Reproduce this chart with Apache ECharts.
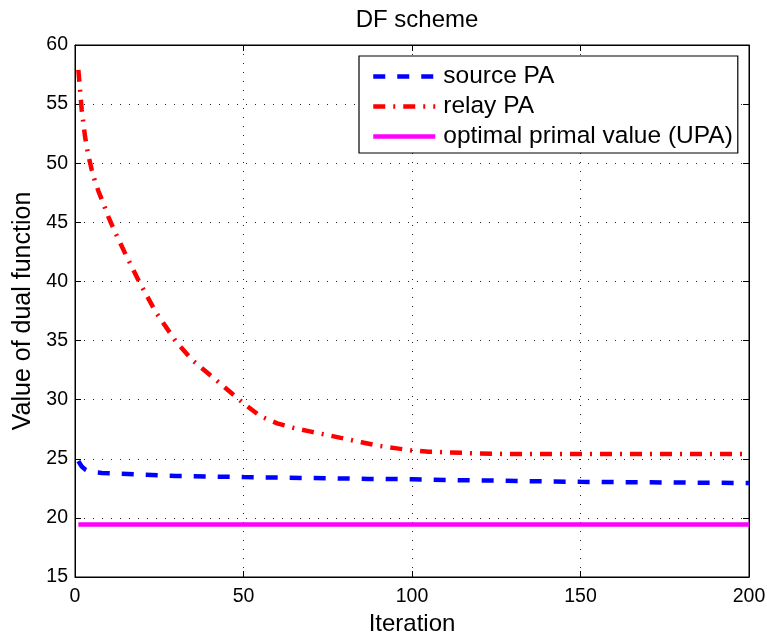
<!DOCTYPE html>
<html>
<head>
<meta charset="utf-8">
<script src="https://cdn.jsdelivr.net/npm/echarts@6/dist/echarts.min.js"></script>
<style>html,body{margin:0;padding:0;background:#fff}#c{width:767px;height:634px}</style>
</head>
<body>
<div id="c"></div>
<script>
// ---- data ----
const titleText = 'DF scheme';
const xTicks = [0, 50, 100, 150, 200];
const yTicks = [15, 20, 25, 30, 35, 40, 45, 50, 55, 60];

const sourceX = [1, 2, 3, 4, 6, 8, 12, 20, 30, 40, 50, 62, 75, 87, 100, 112, 125, 137, 150, 162, 175, 187, 200];
const sourceY = [24.8, 24.35, 24.1, 23.95, 23.85, 23.8, 23.75, 23.65, 23.55, 23.5, 23.45, 23.4, 23.35, 23.3, 23.27, 23.2, 23.15, 23.1, 23.05, 23.02, 23.0, 22.97, 22.95];

const relayX = [1, 2, 3, 4, 5, 6, 7, 8, 10, 12, 15, 19, 24, 30, 35, 40, 45, 50, 55, 60, 65, 70, 75, 80, 85, 90, 95, 100, 105, 110, 115, 120, 125, 130, 140, 150, 160, 170, 180, 190, 200];
const relayY = [57.9, 54.5, 52.2, 50.6, 49.4, 48.4, 47.6, 46.9, 45.4, 44.1, 42.3, 40.0, 37.4, 34.9, 33.3, 32.1, 30.9, 29.7, 28.6, 28.0, 27.6, 27.3, 27.0, 26.7, 26.4, 26.1, 25.9, 25.7, 25.6, 25.55, 25.5, 25.45, 25.42, 25.4, 25.4, 25.4, 25.4, 25.4, 25.4, 25.4, 25.4];

const optX = [1, 200];
const optY = [19.45, 19.45];

const seriesNames = ['source PA', 'relay PA', 'optimal primal value (UPA)'];

// ---- chart ----
const zip = (xs, ys) => xs.map((x, i) => [x, ys[i]]);
const chart = echarts.init(document.getElementById('c'), null, {renderer: 'canvas'});
const FONT = '"Liberation Sans", Arial, Helvetica, sans-serif';
const gridLine = {show: true, lineStyle: {color: '#222', width: 1, type: [1, 8]}};
const xMin = xTicks[0], xMax = xTicks[xTicks.length - 1], xInt = xTicks[1] - xTicks[0];
const yMin = yTicks[0], yMax = yTicks[yTicks.length - 1], yInt = yTicks[1] - yTicks[0];

chart.setOption({
  animation: false,
  backgroundColor: '#fff',
  title: {
    text: titleText, left: 412, top: 3, textAlign: 'center',
    textStyle: {fontFamily: FONT, fontSize: 24, fontWeight: 'normal', color: '#000'}
  },
  grid: {left: 75, right: 18, top: 45, bottom: 57, show: true, borderColor: '#000', borderWidth: 1,
         containLabel: false, outerBoundsMode: 'none'},
  legend: {
    orient: 'vertical', left: 359, top: 56,
    data: seriesNames,
    backgroundColor: '#fff', borderColor: '#000', borderWidth: 1.2,
    padding: [7, 5, 3, 12],
    itemWidth: 62, itemHeight: 14, itemGap: 3,
    textStyle: {fontFamily: FONT, fontSize: 24.5, color: '#000', lineHeight: 27, padding: [0, 0, 0, 3]},
    itemStyle: {opacity: 0},
    lineStyle: {width: 4.5}
  },
  xAxis: [{
    type: 'value', min: xMin, max: xMax, interval: xInt,
    name: 'Iteration', nameLocation: 'middle', nameGap: 31,
    nameTextStyle: {fontFamily: FONT, fontSize: 24, color: '#000'},
    axisLine: {show: true, onZero: false, lineStyle: {color: '#000', width: 1}},
    axisTick: {show: true, inside: true, length: 6, lineStyle: {color: '#000'}},
    axisLabel: {fontFamily: FONT, fontSize: 19.5, color: '#000', margin: 10},
    splitLine: gridLine
  }, {
    type: 'value', position: 'top', min: xMin, max: xMax, interval: xInt,
    axisLine: {show: true, onZero: false, lineStyle: {color: '#000', width: 1}},
    axisTick: {show: true, inside: true, length: 6, lineStyle: {color: '#000'}},
    axisLabel: {show: false}, splitLine: {show: false}
  }],
  yAxis: [{
    type: 'value', min: yMin, max: yMax, interval: yInt,
    name: 'Value of dual function', nameLocation: 'middle', nameGap: 39,
    nameTextStyle: {fontFamily: FONT, fontSize: 25, color: '#000'},
    axisLine: {show: true, onZero: false, lineStyle: {color: '#000', width: 1}},
    axisTick: {show: true, inside: true, length: 6, lineStyle: {color: '#000'}},
    axisLabel: {fontFamily: FONT, fontSize: 19.5, color: '#000', margin: 7},
    splitLine: gridLine
  }, {
    type: 'value', position: 'right', min: yMin, max: yMax, interval: yInt,
    axisLine: {show: true, onZero: false, lineStyle: {color: '#000', width: 1}},
    axisTick: {show: true, inside: true, length: 6, lineStyle: {color: '#000'}},
    axisLabel: {show: false}, splitLine: {show: false}
  }],
  series: [{
    name: seriesNames[0], type: 'line', data: zip(sourceX, sourceY),
    symbol: 'none', smooth: false, color: '#0000ff',
    lineStyle: {color: '#0000ff', width: 4.5, type: [12, 12]}
  }, {
    name: seriesNames[1], type: 'line', data: zip(relayX, relayY),
    symbol: 'none', smooth: false, color: '#ff0000',
    lineStyle: {color: '#ff0000', width: 4.5, type: [12, 8, 2, 8]}
  }, {
    name: seriesNames[2], type: 'line', data: zip(optX, optY),
    symbol: 'none', color: '#ff00ff',
    lineStyle: {color: '#ff00ff', width: 4.5, type: 'solid'}
  }]
});
</script>
</body>
</html>
